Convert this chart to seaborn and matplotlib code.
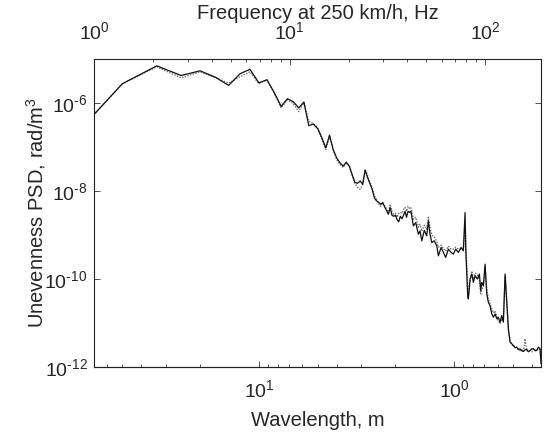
import numpy as np
import pandas as pd
import matplotlib
matplotlib.use("Agg")
import matplotlib.pyplot as plt
import seaborn as sns
from matplotlib.ticker import FixedLocator, LogLocator, NullFormatter, NullLocator, FuncFormatter

SPEED_KMH = 250

freq_hz = [
    0.694, 1.389, 2.083, 2.778, 3.472, 4.167, 4.861, 5.556, 6.25, 6.944,
    7.639, 8.333, 9.028, 9.722, 10.417, 11.111, 11.806, 12.5, 13.194, 13.889,
    14.583, 15.278, 15.972, 16.667, 17.361, 18.056, 18.75, 19.444, 20.139, 20.833,
    21.528, 22.222, 22.917, 23.611, 24.306, 25.0, 25.694, 26.389, 27.083, 27.778,
    28.472, 29.167, 29.861, 30.556, 31.25, 31.944, 32.639, 33.333, 34.028, 34.722,
    35.417, 36.111, 36.806, 37.5, 38.194, 38.889, 39.583, 40.278, 40.972, 41.667,
    42.9, 44.1, 45.5, 46.4, 47.4, 48.8, 50.2, 51.2, 52.2, 53.3,
    54.9, 56.5, 57.6, 59.5, 61.1, 62.8, 64.8, 66.9, 68.7, 70.7,
    72.9, 75.3, 77.3, 78.9, 79.6, 80.5, 81.4, 82.0, 82.9, 83.7,
    85.4, 87.0, 88.8, 91.2, 93.4, 94.9, 96.1, 97.9, 99.9, 101.9,
    103.8, 105.9, 108.1, 110.2, 112.4, 114.7, 116.8, 119.2, 121.6, 123.9,
    126.5, 129.0, 131.5, 134.1, 136.8, 139.4, 142.3, 145.2, 147.9, 150.9,
    154.0, 156.9, 160.1, 163.3, 166.4, 169.8, 173.2, 176.6, 180.1, 183.7,
    187.2, 191.0, 193.3,
]

psd_measured = [
    9.69e-8, 2.72e-6, 6.94e-6, 4.19e-6, 5.35e-6, 3.82e-6, 2.49e-6, 4.58e-6, 5.79e-6, 2.86e-6,
    3.35e-6, 1.70e-6, 8.33e-7, 1.245e-6, 1.065e-6, 7.66e-7, 1.05e-6, 3.05e-7, 3.30e-7, 2.61e-7,
    1.63e-7, 9.54e-8, 1.86e-7, 8.73e-8, 5.67e-8, 4.37e-8, 3.66e-8, 4.51e-8, 3.70e-8, 2.38e-8,
    1.57e-8, 1.49e-8, 1.69e-8, 1.41e-8, 3.00e-8, 2.03e-8, 1.49e-8, 1.09e-8, 6.98e-9, 5.97e-9,
    5.52e-9, 4.98e-9, 5.44e-9, 4.37e-9, 3.64e-9, 2.96e-9, 4.19e-9, 2.81e-9, 2.66e-9, 2.81e-9,
    2.22e-9, 2.00e-9, 2.66e-9, 2.34e-9, 2.81e-9, 3.46e-9, 2.53e-9, 3.46e-9, 3.28e-9, 3.46e-9,
    1.61e-9, 1.92e-9, 1.04e-9, 1.24e-9, 7.35e-10, 1.28e-9, 9.54e-10, 2.08e-9, 1.04e-9, 6.76e-10,
    7.35e-10, 5.67e-10, 3.37e-10, 5.22e-10, 4.02e-10, 3.10e-10, 4.78e-10, 4.02e-10, 3.68e-10, 4.78e-10,
    4.02e-10, 5.22e-10, 4.37e-10, 3.23e-9, 4.37e-10, 1.30e-10, 4.12e-11, 3.53e-11, 5.94e-11, 1.00e-10,
    1.30e-10, 8.42e-11, 1.19e-10, 1.00e-10, 1.30e-10, 5.44e-11, 8.42e-11, 7.06e-11, 2.18e-10, 4.58e-11,
    2.97e-11, 2.49e-11, 1.61e-11, 1.36e-11, 1.61e-11, 1.25e-11, 1.36e-11, 1.05e-11, 1.48e-11, 1.05e-11,
    1.30e-10, 2.97e-11, 7.39e-12, 3.70e-12, 3.38e-12, 3.10e-12, 2.75e-12, 2.85e-12, 2.48e-12, 2.61e-12,
    2.35e-12, 2.27e-12, 2.48e-12, 2.51e-12, 2.23e-12, 2.39e-12, 2.61e-12, 2.61e-12, 2.35e-12, 2.39e-12,
    2.85e-12, 2.61e-12, 1.19e-12,
]

psd_reference = [
    9.69e-8, 2.72e-6, 6.59e-6, 3.72e-6, 5.08e-6, 3.72e-6, 2.82e-6, 3.92e-6, 5.08e-6, 2.72e-6,
    3.35e-6, 1.62e-6, 7.66e-7, 1.18e-6, 9.59e-7, 6.32e-7, 1.01e-6, 3.82e-7, 3.38e-7, 2.75e-7,
    1.47e-7, 8.73e-8, 1.72e-7, 8.73e-8, 5.19e-8, 4.00e-8, 3.42e-8, 4.21e-8, 3.80e-8, 2.25e-8,
    1.49e-8, 1.21e-8, 1.09e-8, 1.41e-8, 3.08e-8, 2.25e-8, 1.57e-8, 1.21e-8, 7.95e-9, 6.46e-9,
    5.24e-9, 4.48e-9, 5.52e-9, 4.72e-9, 3.84e-9, 3.11e-9, 4.98e-9, 3.46e-9, 2.96e-9, 3.11e-9,
    2.53e-9, 3.11e-9, 3.28e-9, 3.11e-9, 3.84e-9, 4.26e-9, 3.46e-9, 4.48e-9, 4.04e-9, 4.26e-9,
    2.28e-9, 2.53e-9, 1.50e-9, 1.75e-9, 1.22e-9, 1.67e-9, 1.35e-9, 2.53e-9, 1.50e-9, 9.90e-10,
    8.92e-10, 7.24e-10, 5.30e-10, 5.88e-10, 5.03e-10, 4.30e-10, 5.58e-10, 4.78e-10, 4.78e-10, 5.30e-10,
    4.78e-10, 4.78e-10, 4.78e-10, 1.50e-9, 6.19e-10, 2.18e-10, 5.94e-11, 3.92e-11, 7.70e-11, 9.01e-11,
    1.52e-10, 1.00e-10, 1.37e-10, 1.23e-10, 1.00e-10, 4.58e-11, 5.94e-11, 6.59e-11, 1.87e-10, 5.94e-11,
    3.53e-11, 2.72e-11, 2.10e-11, 1.70e-11, 1.89e-11, 1.38e-11, 1.12e-11, 9.59e-12, 1.25e-11, 1.12e-11,
    1.17e-10, 2.72e-11, 6.66e-12, 3.96e-12, 3.38e-12, 2.89e-12, 3.05e-12, 2.61e-12, 2.61e-12, 2.35e-12,
    2.48e-12, 2.23e-12, 4.39e-12, 2.35e-12, 2.48e-12, 2.35e-12, 2.23e-12, 2.61e-12, 2.48e-12, 2.35e-12,
    2.61e-12, 2.48e-12, 1.19e-12,
]

x_limits = (1.0, 193.3)
y_limits = (1e-12, 1e-5)
y_ticks = [1e-12, 1e-10, 1e-8, 1e-6]
freq_ticks = [1, 10, 100]
wavelength_ticks = [10, 1]

sns.set_style("ticks")
plt.rcParams['font.family'] = ['Liberation Sans', 'DejaVu Sans']
plt.rcParams['mathtext.default'] = 'regular'
plt.rcParams['axes.unicode_minus'] = False

LABEL_SIZE = 14.5
TICK_SIZE = 14
text_color = '#262626'


def pow10_label(value, pos=None):
    n = int(round(np.log10(value)))
    sign = '\u2010' if n < 0 else ''
    return f"$\\mathdefault{{10^{{{sign}{abs(n)}}}}}$"


fig = plt.figure(figsize=(5.46, 4.36), dpi=100)
ax = fig.add_axes([0.173, 0.158, 0.818, 0.707])

df = pd.DataFrame({"freq": freq_hz, "measured": psd_measured, "reference": psd_reference})

sns.lineplot(data=df, x="freq", y="reference", ax=ax, color="#6e6e6e",
             linestyle=(0, (1, 1)), linewidth=1.0, estimator=None, sort=False)
sns.lineplot(data=df, x="freq", y="measured", ax=ax, color="#111111",
             linestyle="-", linewidth=0.9, estimator=None, sort=False)

ax.set_xscale('log')
ax.set_yscale('log')
ax.set_xlim(*x_limits)
ax.set_ylim(*y_limits)

# top axis: frequency
ax.xaxis.tick_top()
ax.xaxis.set_label_position('top')
ax.set_xlabel('Frequency at 250 km/h, Hz', color=text_color, fontsize=LABEL_SIZE)
ax.xaxis.set_label_coords(0.5, 1.13)
ax.xaxis.set_major_locator(FixedLocator(freq_ticks))
ax.xaxis.set_major_formatter(FuncFormatter(pow10_label))
ax.xaxis.set_minor_locator(LogLocator(base=10, subs=np.arange(2, 10)))
ax.xaxis.set_minor_formatter(NullFormatter())

# y axis
ax.yaxis.set_major_locator(FixedLocator(y_ticks))
ax.yaxis.set_major_formatter(FuncFormatter(pow10_label))
ax.yaxis.set_minor_locator(NullLocator())
ax.set_ylabel('Unevenness PSD, rad/m$^3$', color=text_color, fontsize=LABEL_SIZE)
ax.yaxis.set_label_coords(-0.103, 0.5)

ax.tick_params(axis='both', which='major', direction='in', length=4, width=0.6,
               colors='#333333', labelcolor=text_color, labelsize=TICK_SIZE)
ax.tick_params(axis='x', which='minor', direction='in', length=2.5, width=0.6, colors='#333333')
ax.tick_params(axis='y', which='both', left=True, right=True, pad=5)
ax.tick_params(axis='x', which='both', top=True, bottom=False, pad=11)

for s in ax.spines.values():
    s.set_visible(True)
    s.set_linewidth(0.8)
    s.set_color('#222222')

# bottom axis: wavelength
v_ms = SPEED_KMH / 3.6


def freq_to_wavelength(f):
    f = np.asarray(f, dtype=float)
    with np.errstate(divide='ignore', invalid='ignore'):
        return v_ms / f


sec = ax.secondary_xaxis('bottom', functions=(freq_to_wavelength, freq_to_wavelength))
sec.xaxis.set_major_locator(FixedLocator(wavelength_ticks))
sec.xaxis.set_major_formatter(FuncFormatter(pow10_label))
sec.xaxis.set_minor_locator(LogLocator(base=10, subs=np.arange(2, 10)))
sec.xaxis.set_minor_formatter(NullFormatter())
sec.tick_params(axis='x', which='major', direction='in', length=4, width=0.6,
                colors='#333333', labelcolor=text_color, labelsize=TICK_SIZE, pad=9)
sec.tick_params(axis='x', which='minor', direction='in', length=2.5, width=0.6, colors='#333333')
sec.set_xlabel('Wavelength, m', color=text_color, fontsize=LABEL_SIZE, labelpad=7)
sec.spines['bottom'].set_linewidth(0.8)
sec.spines['bottom'].set_color('#222222')

fig.savefig('out.png', dpi=100, facecolor='white')
